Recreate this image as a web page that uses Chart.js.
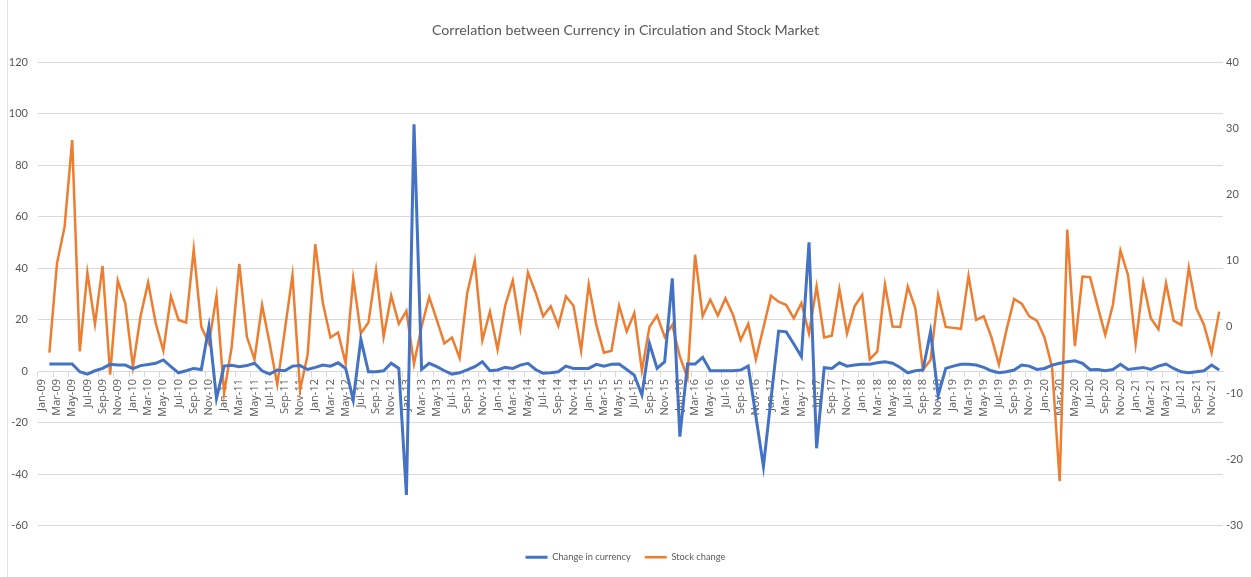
<!DOCTYPE html>
<html>
<head>
<meta charset="utf-8">
<script src="https://cdn.jsdelivr.net/npm/chart.js@4"></script>
<style>
    html, body { margin: 0; padding: 0; background: #fff; }
    #wrap { position: relative; width: 1251px; height: 577px; }
    #frame { position: absolute; left: 7px; top: 0; width: 0; height: 577px; border-left: 1px solid #e4e4e4; }
</style>
</head>
<body>
<div id="wrap"><div id="frame"></div><canvas id="corrChart" width="1251" height="577"></canvas></div>
<script>
const monthNames = ['Jan', 'Feb', 'Mar', 'Apr', 'May', 'Jun', 'Jul', 'Aug', 'Sep', 'Oct', 'Nov', 'Dec'];
const years = ['09', '10', '11', '12', '13', '14', '15', '16', '17', '18', '19', '20', '21'];
const labels = [];
years.forEach(y => monthNames.forEach(m => labels.push(m + '-' + y)));

// change in currency (left axis), first month has no value
const currencyChange = [
    null, 2.7, 2.7, 2.7, 2.7, -0.3, -1.2, 0.1, 1.0, 2.6, 2.3, 2.3,
    0.9, 2.1, 2.5, 3.0, 4.3, 1.7, -0.7, 0.1, 1.0, 0.6, 17.2, -10.6,
    1.9, 2.2, 1.7, 2.1, 3.0, 0.1, -1.2, 0.4, 0.1, 1.9, 2.1, 0.6,
    1.4, 2.3, 1.9, 3.2, 1.0, -11.2, 12.3, -0.3, -0.3, 0.1, 3.0, 1.0,
    -48.1, 95.8, 0.6, 3.0, 1.7, 0.1, -1.2, -0.7, 0.4, 1.7, 3.6, 0.1,
    0.4, 1.4, 1.0, 2.3, 3.0, 0.6, -0.9, -0.7, -0.3, 1.9, 1.0, 1.0,
    1.0, 2.6, 1.9, 2.6, 2.7, 0.6, -1.6, -9.3, 10.7, 1.0, 3.6, 36.0,
    -25.5, 2.7, 2.7, 5.3, 0.1, 0.1, 0.1, 0.1, 0.4, 1.9, -17.5, -37.1,
    -10.7, 15.5, 15.2, 10.5, 5.6, 50.0, -30.0, 1.3, 1.0, 3.2, 1.9, 2.3,
    2.6, 2.6, 3.2, 3.6, 3.0, 1.4, -0.7, 0.1, 0.4, 15.3, -9.5, 1.0,
    1.9, 2.6, 2.6, 2.3, 1.4, 0.1, -0.7, -0.3, 0.4, 2.3, 1.9, 0.6,
    1.0, 2.3, 3.0, 3.6, 4.0, 3.0, 0.5, 0.6, 0.1, 0.6, 2.6, 0.6,
    1.0, 1.4, 0.6, 1.9, 2.7, 1.0, -0.3, -0.7, -0.3, 0.1, 2.3, 0.4
];

// stock change (right axis)
const stockChange = [
    null, -3.9, 9.6, 15.1, 28.2, -3.7, 8.2, 0.45, 9.2, -7.2, 7.0, 3.5,
    -6.0, 1.6, 6.7, 0.55, -3.6, 4.6, 1.05, 0.65, 11.7, 0, -2.5, 4.7,
    -10.0, -3.0, 9.5, -1.5, -4.9, 3.3, -2.5, -8.7, -0.45, 7.8, -9.5, -4.2,
    12.5, 3.6, -1.6, -0.85, -5.5, 7.3, -1.0, 0.65, 8.6, -1.5, 4.7, 0.45,
    2.4, -5.6, 0.05, 4.5, 1.05, -2.5, -1.6, -4.7, 5.1, 10.0, -2.0, 2.3,
    -3.4, 3.2, 7.0, -0.2, 8.2, 5.2, 1.6, 3.1, 0.15, 4.6, 3.2, -3.6,
    6.4, 0.3, -3.9, -3.6, 3.2, -0.7, 2.1, -6.6, 0, 1.7, -1.5, 0.3,
    -4.5, -7.7, 10.9, 1.6, 4.1, 1.7, 4.3, 1.8, -2.0, 0.45, -4.9, -0.1,
    4.7, 3.8, 3.3, 1.3, 3.6, -1.0, 6.1, -1.6, -1.35, 5.7, -1.0, 3.1,
    4.8, -4.9, -3.7, 6.4, 0.05, 0, 6.1, 2.8, -6.5, -5.0, 4.8, 0,
    -0.15, -0.3, 7.7, 1.05, 1.6, -1.5, -5.7, -0.45, 4.2, 3.5, 1.6, 0.95,
    -1.6, -6.1, -23.3, 14.7, -2.9, 7.6, 7.5, 3.1, -1.2, 3.3, 11.5, 7.8,
    -2.6, 6.7, 1.3, -0.35, 6.6, 0.95, 0.3, 8.9, 2.8, 0.3, -3.9, 2.3
];

const textColor = '#595959';
const gridColor = '#d9d9d9';

const ctx = document.getElementById('corrChart').getContext('2d');
new Chart(ctx, {
    type: 'line',
    data: {
        labels: labels,
        datasets: [{
            label: 'Change in currency',
            data: currencyChange,
            borderColor: '#4472C4',
            backgroundColor: '#4472C4',
            borderWidth: 3,
            pointRadius: 0,
            pointStyle: 'line',
            tension: 0,
            yAxisID: 'y'
        }, {
            label: 'Stock change',
            data: stockChange,
            borderColor: '#ED7D31',
            backgroundColor: '#ED7D31',
            borderWidth: 2.5,
            pointRadius: 0,
            pointStyle: 'line',
            tension: 0,
            yAxisID: 'y1'
        }]
    },
    options: {
        responsive: false,
        animation: false,
        layout: { padding: { left: 0, right: 0, top: 0, bottom: 5 } },
        plugins: {
            title: {
                display: true,
                text: 'Correlation between Currency in Circulation and Stock Market',
                color: textColor,
                font: { family: 'Lato', size: 14.2, weight: 'normal' },
                padding: { top: 22, bottom: 23 }
            },
            legend: {
                display: true,
                position: 'bottom',
                title: { display: true, text: '', font: { size: 1 }, padding: { top: 0, bottom: 12 } },
                labels: {
                    color: textColor,
                    font: { family: 'Lato', size: 9.3 },
                    usePointStyle: true,
                    pointStyleWidth: 22,
                    boxHeight: 10,
                    padding: 14
                }
            },
            tooltip: { enabled: false }
        },
        scales: {
            x: {
                type: 'category',
                position: { y: 0 },
                offset: true,
                grid: {
                    display: true,
                    drawOnChartArea: false,
                    drawTicks: true,
                    tickLength: 5,
                    offset: true,
                    color: c => (c.index % 2 === 0 ? gridColor : 'rgba(0,0,0,0)')
                },
                border: { display: true, color: gridColor, width: 1 },
                ticks: {
                    autoSkip: false,
                    minRotation: 90,
                    maxRotation: 90,
                    padding: 3,
                    color: textColor,
                    font: { family: 'Open Sans', size: 11 },
                    callback: function (val, idx) {
                        return idx % 2 === 0 ? labels[idx] : '';
                    }
                }
            },
            y: {
                position: 'left',
                min: -60,
                max: 120,
                afterFit: s => { s.width = 38; },
                grid: { color: gridColor, drawTicks: false },
                border: { display: false },
                ticks: {
                    stepSize: 20,
                    padding: 10,
                    color: textColor,
                    font: { family: 'Lato', size: 11 }
                }
            },
            y1: {
                position: 'right',
                min: -30,
                max: 40,
                afterFit: s => { s.width = 28; },
                grid: { display: false, drawTicks: false },
                border: { display: false },
                ticks: {
                    stepSize: 10,
                    padding: 3,
                    color: textColor,
                    font: { family: 'Lato', size: 11 }
                }
            }
        }
    }
});
</script>
</body>
</html>
